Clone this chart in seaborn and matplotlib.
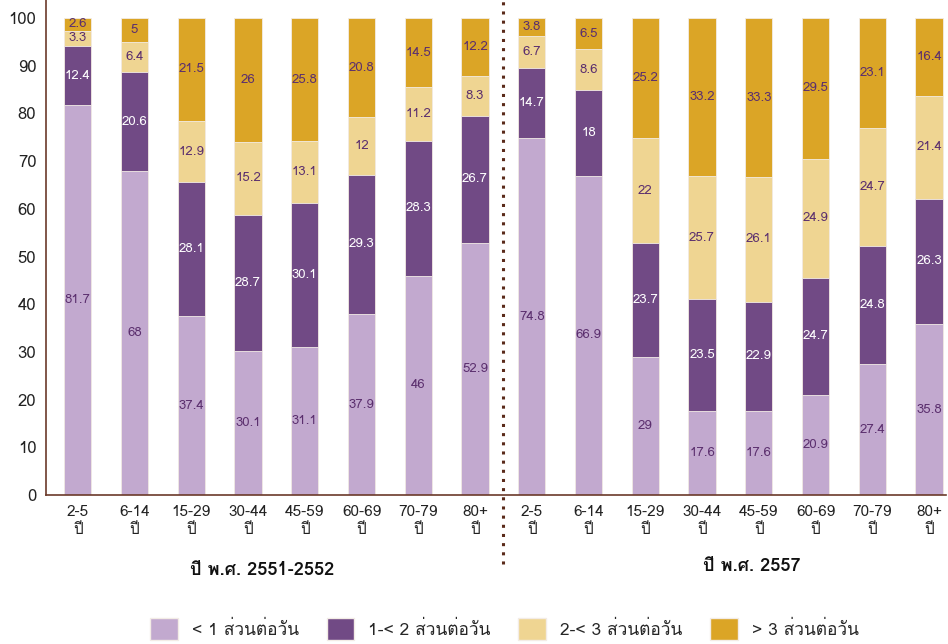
import matplotlib
matplotlib.use("Agg")
import matplotlib.pyplot as plt
import seaborn as sns
import pandas as pd
import numpy as np
from matplotlib import font_manager
from matplotlib.ft2font import FT2Font
from matplotlib.patches import Patch

# ---------------- data ----------------
age_groups = ["2-5\nปี", "6-14\nปี", "15-29\nปี", "30-44\nปี",
              "45-59\nปี", "60-69\nปี", "70-79\nปี", "80+\nปี"]
periods = ["ปี พ.ศ. 2551-2552", "ปี พ.ศ. 2557"]
series_names = ["< 1 ส่วนต่อวัน", "1-< 2 ส่วนต่อวัน", "2-< 3 ส่วนต่อวัน", "> 3 ส่วนต่อวัน"]

lt1_2551 = [81.7, 68, 37.4, 30.1, 31.1, 37.9, 46, 52.9]
b12_2551 = [12.4, 20.6, 28.1, 28.7, 30.1, 29.3, 28.3, 26.7]
b23_2551 = [3.3, 6.4, 12.9, 15.2, 13.1, 12, 11.2, 8.3]
gt3_2551 = [2.6, 5, 21.5, 26, 25.8, 20.8, 14.5, 12.2]

lt1_2557 = [74.8, 66.9, 29, 17.6, 17.6, 20.9, 27.4, 35.8]
b12_2557 = [14.7, 18, 23.7, 23.5, 22.9, 24.7, 24.8, 26.3]
b23_2557 = [6.7, 8.6, 22, 25.7, 26.1, 24.9, 24.7, 21.4]
gt3_2557 = [3.8, 6.5, 25.2, 33.2, 33.3, 29.5, 23.1, 16.4]

colors = ["#c2a9cf", "#714a85", "#efd592", "#dba526"]
label_colors = ["#5b2f6e", "#ffffff", "#5b2f6e", "#5b2f6e"]

# ---------------- fonts ----------------
thai_font = None
for f in font_manager.fontManager.ttflist:
    try:
        if ord("ป") in FT2Font(f.fname).get_charmap():
            thai_font = f.name
            break
    except Exception:
        pass

sns.set_theme(style="white")
fams = ([thai_font] if thai_font else []) + ["DejaVu Sans"]
plt.rcParams["font.family"] = fams

# ---------------- build table ----------------
segs = np.array([lt1_2551 + lt1_2557, b12_2551 + b12_2557,
                 b23_2551 + b23_2557, gt3_2551 + gt3_2557], dtype=float)
n = segs.shape[1]
ids = [f"b{i:02d}" for i in range(n)]
cum = np.cumsum(segs, axis=0)
cum_pct = cum / cum[-1] * 100  # 100% stacked

fig = plt.figure(figsize=(9.48, 6.44), dpi=100)
ax = fig.add_axes([0.0485, 0.2314, 0.9495, 0.7686])

for k in range(3, -1, -1):
    d = pd.DataFrame({"id": ids, "v": cum_pct[k]})
    sns.barplot(data=d, x="id", y="v", color=colors[k], width=0.48,
                saturation=1, edgecolor="#f3ece6", linewidth=0.6, ax=ax,
                order=ids, errorbar=None)

# value labels
for k in range(4):
    for i in range(n):
        lo = cum_pct[k - 1][i] if k > 0 else 0
        mid = (lo + cum_pct[k][i]) / 2
        ax.text(i, mid, f"{segs[k][i]:g}", ha="center", va="center",
                fontsize=9.5, color=label_colors[k])

ax.set_xlim(-0.56, 15.3)
ax.set_ylim(0, 103.8)
ax.set_yticks(range(0, 101, 10))
ax.set_yticklabels([str(t) for t in range(0, 101, 10)], fontsize=12, color="#222222")
ax.set_xticks(range(n))
ax.set_xticklabels(age_groups * 2, fontsize=11, color="#222222", linespacing=1.35)
ax.tick_params(axis="both", length=0, pad=7)
ax.set_xlabel("")
ax.set_ylabel("")
for s in ["top", "right"]:
    ax.spines[s].set_visible(False)
for s in ["left", "bottom"]:
    ax.spines[s].set_color("#6b3a2a")
    ax.spines[s].set_linewidth(1.2)

# dotted divider
ax.plot([7.5, 7.5], [-0.14, 1.0], transform=ax.get_xaxis_transform(),
        color="#5a2a1a", linestyle=(0, (1, 2)), linewidth=2.2, clip_on=False)

# group titles
fig.text(262 / 948, 1 - 570 / 644, periods[0], ha="center", va="center",
         fontsize=13, fontweight="bold", color="#111111")
fig.text(752 / 948, 1 - 566 / 644, periods[1], ha="center", va="center",
         fontsize=13, fontweight="bold", color="#111111")

handles = [Patch(facecolor=c, edgecolor="#f3ece6") for c in colors]
fig.legend(handles, series_names, loc="center", bbox_to_anchor=(0.532, 1 - 629 / 644),
           ncol=4, frameon=False, fontsize=12.5, handlelength=1.6, handleheight=1.6,
           columnspacing=1.6, handletextpad=0.8, borderpad=0)

fig.savefig("out.png", dpi=100)
